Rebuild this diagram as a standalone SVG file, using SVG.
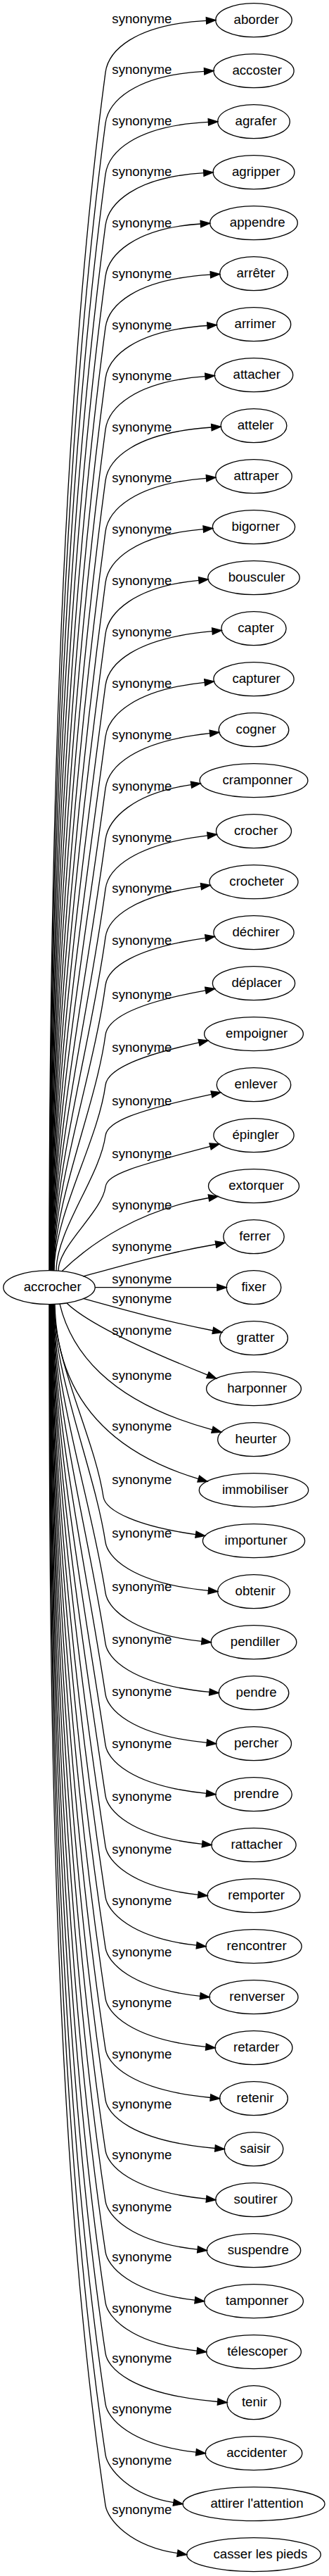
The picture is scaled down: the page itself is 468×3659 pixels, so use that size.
<svg xmlns="http://www.w3.org/2000/svg" width="468" height="3659" viewBox="0 0 468 3659">
<style>
.nd ellipse{fill:none;stroke:#000;stroke-width:1.33}
text{font-family:"Liberation Sans",Arial,sans-serif;font-size:18.67px;fill:#000}
.ed path{fill:none;stroke:#000;stroke-width:1.33;marker-end:url(#ah)}
</style>
<defs>
<marker id="ah" markerUnits="userSpaceOnUse" markerWidth="16" markerHeight="12" refX="0" refY="4.67" orient="auto" overflow="visible"><path d="M0,0L13.3,4.67L0,9.33Z" fill="#000" stroke="#000" stroke-width="1.33"/></marker>
</defs>
<rect width="468" height="3659" fill="#fff"/>
<g id="edges" class="ed">
<g id="e-aborder"><path d="M70,1805 C70,1294.4 81.9,613.5 150,102.9 C154,72.9 190,34.7 293.5,29.4"/><text x="159.3" y="32.8">synonyme</text></g>
<g id="e-accoster"><path d="M70.4,1805 C70.4,1316.1 84.8,664.1 150,175.2 C154,145.2 190,106.7 290.6,101.4"/><text x="159.3" y="105.1">synonyme</text></g>
<g id="e-agrafer"><path d="M70.7,1805 C70.7,1337.8 87.7,714.9 150,247.7 C154,217.7 190,178.7 296.4,173.4"/><text x="159.3" y="177.6">synonyme</text></g>
<g id="e-agripper"><path d="M71.1,1805 C71.1,1359.6 90.6,765.6 150,320.2 C154,290.2 190,251.4 289.8,245.7"/><text x="159.3" y="250.1">synonyme</text></g>
<g id="e-appendre"><path d="M71.4,1805 C71.4,1381.3 93.5,816.4 150,392.7 C154,362.7 190,324 285.4,318"/><text x="159.3" y="322.6">synonyme</text></g>
<g id="e-arreter"><path d="M71.8,1805 C71.8,1403.1 96.4,867.1 150,465.2 C154,435.2 190,396.7 299.4,390.2"/><text x="159.3" y="395.1">synonyme</text></g>
<g id="e-arrimer"><path d="M72.1,1805 C72.1,1424.8 99.3,917.9 150,537.7 C154,507.7 190,469.3 295,462.5"/><text x="159.3" y="467.6">synonyme</text></g>
<g id="e-attacher"><path d="M72.5,1805 C72.5,1446.6 102.2,968.6 150,610.2 C154,580.2 190,542 292,534.7"/><text x="159.3" y="540.1">synonyme</text></g>
<g id="e-atteler"><path d="M72.8,1805 C72.8,1468.3 105.1,1019.4 150,682.7 C154,652.7 190,614.6 300.9,607"/><text x="159.3" y="612.6">synonyme</text></g>
<g id="e-attraper"><path d="M73.2,1805 C73.2,1490.1 108,1070.1 150,755.2 C154,725.2 190,687.3 293.6,679.3"/><text x="159.3" y="685.1">synonyme</text></g>
<g id="e-bigorner"><path d="M73.5,1805 C73.5,1511.8 110.9,1120.9 150,827.7 C154,797.7 190,759.9 289.3,751.6"/><text x="159.3" y="757.6">synonyme</text></g>
<g id="e-bousculer"><path d="M73.9,1805 C73.9,1533.7 113.8,1172 150,900.7 C154,870.7 190,833.2 282.9,824.3"/><text x="159.3" y="830.6">synonyme</text></g>
<g id="e-capter"><path d="M74.2,1805 C74.2,1555.6 116.7,1223.1 150,973.7 C154,943.7 190,906.5 302,896.6"/><text x="159.3" y="903.6">synonyme</text></g>
<g id="e-capturer"><path d="M74.6,1805 C74.6,1577.5 119.7,1274.2 150,1046.7 C154,1016.7 190,979.8 291.2,969.3"/><text x="159.3" y="976.6">synonyme</text></g>
<g id="e-cogner"><path d="M74.9,1805 C74.9,1599.4 122.6,1325.3 150,1119.7 C154,1089.7 190,1053.1 298.6,1041.7"/><text x="159.3" y="1049.6">synonyme</text></g>
<g id="e-cramponner"><path d="M75.3,1805 C75.3,1621.3 125.5,1376.4 150,1192.7 C154,1162.7 190,1126.4 272,1114.7"/><text x="159.3" y="1122.6">synonyme</text></g>
<g id="e-crocher"><path d="M75.6,1805 C75.6,1642.3 128.3,1425.4 150,1262.7 C153.8,1233.9 190,1199.7 295.3,1186.8"/><text x="159.3" y="1195.6">synonyme</text></g>
<g id="e-crocheter"><path d="M76,1805 C76,1662.9 131,1473.3 150,1331.2 C153.6,1304 190,1272.4 286,1259.2"/><text x="159.3" y="1268.1">synonyme</text></g>
<g id="e-dechirer"><path d="M76.3,1805 C76.3,1683.3 133.8,1521 150,1399.3 C153.3,1374.5 190,1347.1 292.3,1332.3"/><text x="159.3" y="1342.2">synonyme</text></g>
<g id="e-deplacer"><path d="M76.7,1805 C76.7,1704.5 136.6,1570.5 150,1470 C153,1447.6 190,1425.2 292.5,1406.8"/><text x="159.3" y="1418.9">synonyme</text></g>
<g id="e-empoigner"><path d="M77,1805 C77,1725.9 139.5,1620.4 150,1541.3 C152.8,1520.5 190,1501.5 283.1,1480.9"/><text x="159.3" y="1494.2">synonyme</text></g>
<g id="e-enlever"><path d="M80,1805 C80,1747.4 142.3,1670.6 150,1613 C152.5,1593.8 190,1578.3 301,1554.4"/><text x="159.3" y="1569.9">synonyme</text></g>
<g id="e-epingler"><path d="M83,1805 C83,1769.3 145.2,1721.7 150,1686 C152.4,1667.6 190,1657 299.1,1628.4"/><text x="159.3" y="1644.9">synonyme</text></g>
<g id="e-extorquer"><path d="M88,1805.8 C130,1765 200,1718 297,1701.5"/><text x="159.3" y="1717.6">synonyme</text></g>
<g id="e-ferrer"><path d="M118.3,1813 C180,1796 240,1779 307,1767.5"/><text x="159.3" y="1776.6">synonyme</text></g>
<g id="e-fixer"><path d="M135.2,1828.7 L308.9,1828.7"/><text x="159.3" y="1822.6">synonyme</text></g>
<g id="e-gratter"><path d="M118.3,1844.4 C178,1861 236,1877 302.9,1890"/><text x="159.3" y="1850.9">synonyme</text></g>
<g id="e-harponner"><path d="M95,1850.9 C125,1880 202.6,1916 295.4,1953.1"/><text x="159.3" y="1895.9">synonyme</text></g>
<g id="e-heurter"><path d="M85,1852.1 C100,1915 150,1990 302,2030.8"/><text x="159.3" y="1959.9">synonyme</text></g>
<g id="e-immobiliser"><path d="M78,1852.3 C80,1960 130,2055 282.3,2100.6"/><text x="159.3" y="2032.2">synonyme</text></g>
<g id="e-importuner"><path d="M77,1852.4 C77,1934.5 134.7,2043.9 147,2126 C150,2146 195,2168 278.5,2179.6"/><text x="159.3" y="2108.2">synonyme</text></g>
<g id="e-obtenir"><path d="M76.7,1852.4 C76.7,1953.9 134.8,2089.2 150,2190.7 C153,2210.7 185,2248.7 296.5,2259.4"/><text x="159.3" y="2184.2">synonyme</text></g>
<g id="e-pendiller"><path d="M76.3,1852.4 C76.3,1975.5 131.5,2139.6 150,2262.7 C153,2282.7 185,2320.7 287,2331.3"/><text x="159.3" y="2259.5">synonyme</text></g>
<g id="e-pendre"><path d="M76,1852.4 C76,1997.1 128.3,2190 150,2334.7 C153,2354.7 185,2392.7 298,2403.4"/><text x="159.3" y="2335">synonyme</text></g>
<g id="e-percher"><path d="M75.6,1852.4 C75.6,2018.7 125.1,2240.4 150,2406.7 C153,2426.7 185,2464.7 294.3,2475.4"/><text x="159.3" y="2408.9">synonyme</text></g>
<g id="e-prendre"><path d="M75.3,1852.4 C75.3,2040.3 121.8,2290.8 150,2478.7 C153,2498.7 185,2536.7 293.6,2547.4"/><text x="159.3" y="2482.9">synonyme</text></g>
<g id="e-rattacher"><path d="M74.9,1852.4 C74.9,2061.9 118.6,2341.2 150,2550.7 C153,2570.7 185,2608.7 287.7,2619.3"/><text x="159.3" y="2558.4">synonyme</text></g>
<g id="e-remporter"><path d="M74.6,1852.4 C74.6,2083.5 115.3,2391.6 150,2622.7 C153,2642.7 185,2680.7 281.9,2691.3"/><text x="159.3" y="2633.1">synonyme</text></g>
<g id="e-rencontrer"><path d="M74.2,1852.4 C74.2,2105.1 112.1,2442 150,2694.7 C153,2714.7 185,2752.7 279.7,2763.2"/><text x="159.3" y="2706.3">synonyme</text></g>
<g id="e-renverser"><path d="M73.9,1852.4 C73.9,2126.7 108.9,2492.4 150,2766.7 C153,2786.7 185,2824.7 284.8,2835.3"/><text x="159.3" y="2778.7">synonyme</text></g>
<g id="e-retarder"><path d="M73.5,1852.4 C73.5,2148.3 105.6,2542.8 150,2838.7 C153,2858.7 185,2896.7 292.9,2907.4"/><text x="159.3" y="2851.1">synonyme</text></g>
<g id="e-retenir"><path d="M73.2,1852.4 C73.2,2169.9 102.4,2593.2 150,2910.7 C153,2930.7 185,2968.7 299.4,2979.5"/><text x="159.3" y="2924.3">synonyme</text></g>
<g id="e-saisir"><path d="M72.8,1852.4 C72.8,2191.5 99.1,2643.6 150,2982.7 C153,3002.7 185,3040.7 306,3051.5"/><text x="159.3" y="2995.1">synonyme</text></g>
<g id="e-soutirer"><path d="M72.5,1852.4 C72.5,2213.1 95.9,2694 150,3054.7 C153,3074.7 185,3112.7 293.6,3123.4"/><text x="159.3" y="3066.7">synonyme</text></g>
<g id="e-suspendre"><path d="M72.1,1852.4 C72.1,2234.7 92.7,2744.4 150,3126.7 C153,3146.7 185,3184.7 281.1,3195.2"/><text x="159.3" y="3140.6">synonyme</text></g>
<g id="e-tamponner"><path d="M71.8,1852.4 C71.8,2256.3 89.4,2794.8 150,3198.7 C153,3218.7 185,3256.7 277.4,3267.2"/><text x="159.3" y="3212.2">synonyme</text></g>
<g id="e-telescoper"><path d="M71.4,1852.4 C71.4,2277.9 86.2,2845.2 150,3270.7 C153,3290.7 185,3328.7 280.4,3339.2"/><text x="159.3" y="3284.6">synonyme</text></g>
<g id="e-tenir"><path d="M71.1,1852.4 C71.1,2299.5 82.9,2895.6 150,3342.7 C153,3362.7 185,3400.7 309.7,3411.5"/><text x="159.3" y="3356.2">synonyme</text></g>
<g id="e-accidenter"><path d="M70.7,1852.4 C70.7,2321.1 79.7,2946 150,3414.7 C153,3434.7 185,3472.7 279,3483.2"/><text x="159.3" y="3428.2">synonyme</text></g>
<g id="e-attirer-l-attention"><path d="M70.4,1852.4 C70.4,2342.7 76.5,2996.4 150,3486.7 C153,3506.7 185,3544.7 246.9,3554.6"/><text x="159.3" y="3500.9">synonyme</text></g>
<g id="e-casser-les-pieds"><path d="M70,1852.4 C70,2364.3 73.2,3046.8 150,3558.7 C153,3578.7 185,3616.7 252.5,3626.7"/><text x="159.3" y="3570.6">synonyme</text></g>
</g>
<g id="nodes" class="nd">
<g id="n-accrocher"><ellipse cx="70" cy="1828.7" rx="65.2" ry="24"/><text x="33.7" y="1834.3">accrocher</text></g>
<g id="n-aborder"><ellipse cx="361" cy="28.7" rx="54.2" ry="24"/><text x="332.5" y="34.3">aborder</text></g>
<g id="n-accoster"><ellipse cx="361" cy="100.7" rx="57.1" ry="24"/><text x="330.4" y="106.3">accoster</text></g>
<g id="n-agrafer"><ellipse cx="361" cy="172.7" rx="51.3" ry="24"/><text x="334.6" y="178.3">agrafer</text></g>
<g id="n-agripper"><ellipse cx="361" cy="244.7" rx="57.9" ry="24"/><text x="329.9" y="250.3">agripper</text></g>
<g id="n-appendre"><ellipse cx="361" cy="316.7" rx="62.3" ry="24"/><text x="326.8" y="322.3">appendre</text></g>
<g id="n-arreter"><ellipse cx="361" cy="388.7" rx="48.3" ry="24"/><text x="336.6" y="394.3">arrêter</text></g>
<g id="n-arrimer"><ellipse cx="361" cy="460.7" rx="52.7" ry="24"/><text x="333.5" y="466.3">arrimer</text></g>
<g id="n-attacher"><ellipse cx="361" cy="532.7" rx="55.7" ry="24"/><text x="331.5" y="538.3">attacher</text></g>
<g id="n-atteler"><ellipse cx="361" cy="604.7" rx="46.9" ry="24"/><text x="337.7" y="610.3">atteler</text></g>
<g id="n-attraper"><ellipse cx="361" cy="676.7" rx="54.2" ry="24"/><text x="332.5" y="682.3">attraper</text></g>
<g id="n-bigorner"><ellipse cx="361" cy="748.7" rx="58.6" ry="24"/><text x="329.4" y="754.3">bigorner</text></g>
<g id="n-bousculer"><ellipse cx="361" cy="820.7" rx="65.2" ry="24"/><text x="324.7" y="826.3">bousculer</text></g>
<g id="n-capter"><ellipse cx="361" cy="892.7" rx="46.1" ry="24"/><text x="338.2" y="898.3">capter</text></g>
<g id="n-capturer"><ellipse cx="361" cy="964.7" rx="57.1" ry="24"/><text x="330.4" y="970.3">capturer</text></g>
<g id="n-cogner"><ellipse cx="361" cy="1036.7" rx="49.8" ry="24"/><text x="335.6" y="1042.3">cogner</text></g>
<g id="n-cramponner"><ellipse cx="361" cy="1108.7" rx="76.9" ry="24"/><text x="316.4" y="1114.3">cramponner</text></g>
<g id="n-crocher"><ellipse cx="361" cy="1180.7" rx="53.5" ry="24"/><text x="333" y="1186.3">crocher</text></g>
<g id="n-crocheter"><ellipse cx="361" cy="1252.7" rx="63" ry="24"/><text x="326.3" y="1258.3">crocheter</text></g>
<g id="n-dechirer"><ellipse cx="361" cy="1324.7" rx="57.1" ry="24"/><text x="330.4" y="1330.3">déchirer</text></g>
<g id="n-deplacer"><ellipse cx="361" cy="1396.7" rx="58.6" ry="24"/><text x="329.4" y="1402.3">déplacer</text></g>
<g id="n-empoigner"><ellipse cx="361" cy="1468.7" rx="70.4" ry="24"/><text x="321.1" y="1474.3">empoigner</text></g>
<g id="n-enlever"><ellipse cx="361" cy="1540.7" rx="52.7" ry="24"/><text x="333.5" y="1546.3">enlever</text></g>
<g id="n-epingler"><ellipse cx="361" cy="1612.7" rx="57.1" ry="24"/><text x="330.4" y="1618.3">épingler</text></g>
<g id="n-extorquer"><ellipse cx="361" cy="1684.7" rx="64.5" ry="24"/><text x="325.2" y="1690.3">extorquer</text></g>
<g id="n-ferrer"><ellipse cx="361" cy="1756.7" rx="43.2" ry="24"/><text x="340.3" y="1762.3">ferrer</text></g>
<g id="n-fixer"><ellipse cx="361" cy="1828.7" rx="38.8" ry="24"/><text x="343.4" y="1834.3">fixer</text></g>
<g id="n-gratter"><ellipse cx="361" cy="1900.7" rx="48.4" ry="24"/><text x="336.6" y="1906.3">gratter</text></g>
<g id="n-harponner"><ellipse cx="361" cy="1972.7" rx="67.4" ry="24"/><text x="323.2" y="1978.3">harponner</text></g>
<g id="n-heurter"><ellipse cx="361" cy="2044.7" rx="51.3" ry="24"/><text x="334.6" y="2050.3">heurter</text></g>
<g id="n-immobiliser"><ellipse cx="361" cy="2116.7" rx="77.7" ry="24"/><text x="315.9" y="2122.3">immobiliser</text></g>
<g id="n-importuner"><ellipse cx="361" cy="2188.7" rx="72.6" ry="24"/><text x="319.5" y="2194.3">importuner</text></g>
<g id="n-obtenir"><ellipse cx="361" cy="2260.7" rx="51.3" ry="24"/><text x="334.6" y="2266.3">obtenir</text></g>
<g id="n-pendiller"><ellipse cx="361" cy="2332.7" rx="60.8" ry="24"/><text x="327.8" y="2338.3">pendiller</text></g>
<g id="n-pendre"><ellipse cx="361" cy="2404.7" rx="49.8" ry="24"/><text x="335.6" y="2410.3">pendre</text></g>
<g id="n-percher"><ellipse cx="361" cy="2476.7" rx="53.5" ry="24"/><text x="333" y="2482.3">percher</text></g>
<g id="n-prendre"><ellipse cx="361" cy="2548.7" rx="54.2" ry="24"/><text x="332.5" y="2554.3">prendre</text></g>
<g id="n-rattacher"><ellipse cx="361" cy="2620.7" rx="60.1" ry="24"/><text x="328.4" y="2626.3">rattacher</text></g>
<g id="n-remporter"><ellipse cx="361" cy="2692.7" rx="65.9" ry="24"/><text x="324.2" y="2698.3">remporter</text></g>
<g id="n-rencontrer"><ellipse cx="361" cy="2764.7" rx="68.1" ry="24"/><text x="322.6" y="2770.3">rencontrer</text></g>
<g id="n-renverser"><ellipse cx="361" cy="2836.7" rx="63" ry="24"/><text x="326.3" y="2842.3">renverser</text></g>
<g id="n-retarder"><ellipse cx="361" cy="2908.7" rx="54.9" ry="24"/><text x="332" y="2914.3">retarder</text></g>
<g id="n-retenir"><ellipse cx="361" cy="2980.7" rx="48.4" ry="24"/><text x="336.6" y="2986.3">retenir</text></g>
<g id="n-saisir"><ellipse cx="361" cy="3052.7" rx="41.8" ry="24"/><text x="341.3" y="3058.3">saisir</text></g>
<g id="n-soutirer"><ellipse cx="361" cy="3124.7" rx="54.2" ry="24"/><text x="332.5" y="3130.3">soutirer</text></g>
<g id="n-suspendre"><ellipse cx="361" cy="3196.7" rx="66.7" ry="24"/><text x="323.7" y="3202.3">suspendre</text></g>
<g id="n-tamponner"><ellipse cx="361" cy="3268.7" rx="70.4" ry="24"/><text x="321.1" y="3274.3">tamponner</text></g>
<g id="n-telescoper"><ellipse cx="361" cy="3340.7" rx="67.4" ry="24"/><text x="323.2" y="3346.3">télescoper</text></g>
<g id="n-tenir"><ellipse cx="361" cy="3412.7" rx="38.1" ry="24"/><text x="343.9" y="3418.3">tenir</text></g>
<g id="n-accidenter"><ellipse cx="361" cy="3484.7" rx="68.8" ry="24"/><text x="322.2" y="3490.3">accidenter</text></g>
<g id="n-attirer-l-attention"><ellipse cx="361" cy="3556.7" rx="101" ry="24"/><text x="299.4" y="3562.3">attirer l'attention</text></g>
<g id="n-casser-les-pieds"><ellipse cx="361" cy="3628.7" rx="95.3" ry="24"/><text x="303.5" y="3634.3">casser les pieds</text></g>
</g>
</svg>
